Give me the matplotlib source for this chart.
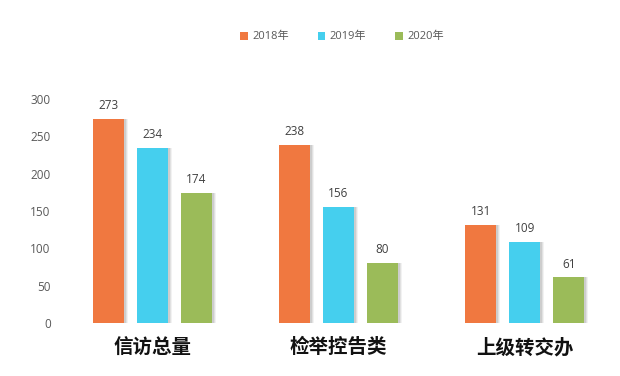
import matplotlib
matplotlib.use("Agg")
import matplotlib.pyplot as plt
import matplotlib.transforms as mtransforms
import numpy as np

categories = ["信访总量", "检举控告类", "上级转交办"]
series_names = ["2018年", "2019年", "2020年"]
v2018 = [273, 238, 131]
v2019 = [234, 156, 109]
v2020 = [174, 80, 61]
yticks = [0, 50, 100, 150, 200, 250, 300]

colors = ["#F07840", "#45CFEE", "#9BBB59"]

plt.rcParams['font.family'] = ['Noto Sans CJK SC', 'DejaVu Sans']

fig = plt.figure(figsize=(6.2, 3.76), dpi=100)
ax = fig.add_axes([59/620, 53/376, 559/620, 224/376])

x = np.arange(len(categories))
width = 0.166
offsets = [-0.236, 0, 0.236]
all_vals = [v2018, v2019, v2020]

for i, (vals, c, name) in enumerate(zip(all_vals, colors, series_names)):
    xs = x + offsets[i]
    for k, (dx, a) in enumerate([(4, 0.10), (3, 0.15), (2, 0.2)]):
        tr = ax.transData + mtransforms.ScaledTranslation(dx/100, 0, fig.dpi_scale_trans)
        ax.bar(xs, vals, width, color="#808080", alpha=a, transform=tr, zorder=1,
               linewidth=0)
    ax.bar(xs, vals, width, color=c, label=name, zorder=3, linewidth=0)
    for xi, v in zip(xs, vals):
        ax.annotate(str(v), (xi, v), xytext=(0, 5), textcoords="offset points",
                    ha="center", va="bottom", fontsize=8.5, color="#404040",
                    family=['Open Sans', 'DejaVu Sans'])

ax.set_xlim(-0.5, 2.5)
ax.set_ylim(0, 300)
ax.set_yticks(yticks)
ax.set_yticklabels([str(t) for t in yticks], fontsize=8.5, color="#595959",
                   family=['Open Sans', 'DejaVu Sans'])
ax.set_xticks(x)
ax.set_xticklabels(categories, fontsize=14, fontweight="bold", color="#111111")
ax.tick_params(axis="both", length=0)
ax.tick_params(axis="y", pad=6)
ax.tick_params(axis="x", pad=11)
for s in ax.spines.values():
    s.set_visible(False)

leg = fig.legend(loc="center", bbox_to_anchor=(342/620, 1 - 37/376), ncol=3,
                 frameon=False, handlelength=0.7, handleheight=0.7,
                 columnspacing=2.6, handletextpad=0.4,
                 prop={'family': ['Open Sans', 'Noto Sans CJK SC'], 'size': 8})
for t in leg.get_texts():
    t.set_color("#595959")

fig.savefig("out.png", dpi=100)
